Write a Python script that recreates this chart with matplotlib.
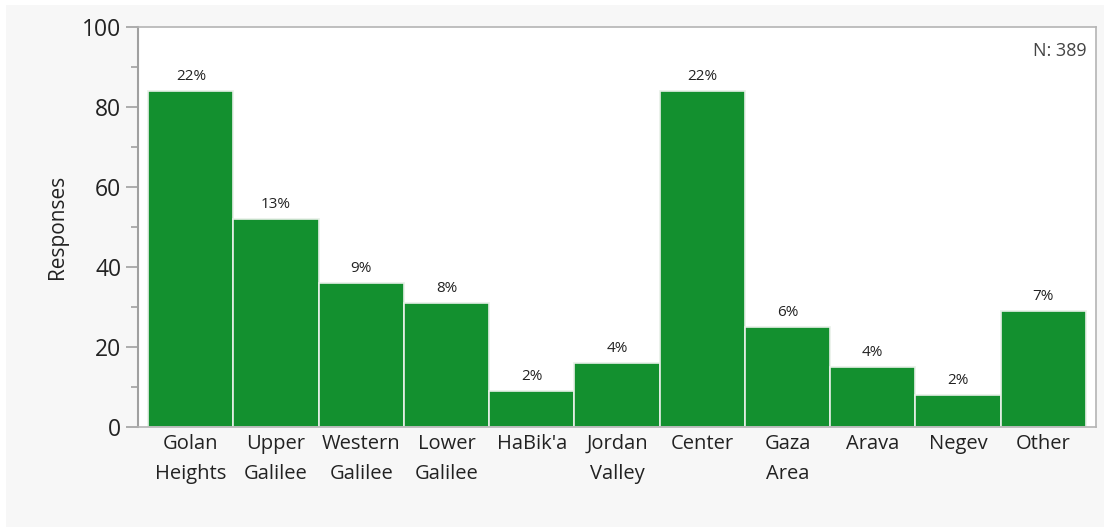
import matplotlib
matplotlib.use("Agg")
import matplotlib.pyplot as plt
from matplotlib.patches import Rectangle
from matplotlib.ticker import MultipleLocator

plt.rcParams['font.family'] = ['Open Sans', 'DejaVu Sans']

categories = ["Golan\nHeights", "Upper\nGalilee", "Western\nGalilee", "Lower\nGalilee",
              "HaBik'a", "Jordan\nValley", "Center", "Gaza\nArea", "Arava", "Negev", "Other"]
responses = [84, 52, 36, 31, 9, 16, 84, 25, 15, 8, 29]
percent_labels = ["22%", "13%", "9%", "8%", "2%", "4%", "22%", "6%", "4%", "2%", "7%"]
n_total = 389

fig = plt.figure(figsize=(11.04, 5.27), dpi=100, facecolor='#f7f7f7')
# white strips at top and left edge
fig.patches.append(Rectangle((0, 1 - 5/527), 1, 5/527, transform=fig.transFigure,
                             facecolor='white', edgecolor='none', zorder=0))
fig.patches.append(Rectangle((0, 0), 6/1104, 1, transform=fig.transFigure,
                             facecolor='white', edgecolor='none', zorder=0))

ax = fig.add_axes([138/1104, 100/527, (1096-138)/1104, 400/527])
ax.set_facecolor('white')

x = list(range(len(categories)))
bars = ax.bar(x, responses, width=1.0, color='#13902f', edgecolor='#e8f0e8', linewidth=1.2)

for xi, v, lab in zip(x, responses, percent_labels):
    ax.annotate(lab, (xi, v), xytext=(0, 5), textcoords='offset points',
                ha='center', va='bottom', fontsize=11, color='#222222')

ax.set_xlim(-0.62, len(categories) - 1 + 0.62)
ax.set_ylim(0, 100)
ax.yaxis.set_major_locator(MultipleLocator(20))
ax.yaxis.set_minor_locator(MultipleLocator(10))
ax.set_xticks(x)
ax.set_xticklabels(categories, fontsize=14.5, color='#222222', linespacing=1.68)
ax.tick_params(axis='x', length=0, pad=5)
ax.tick_params(axis='y', which='major', length=9, width=1.2, color='#a0a0a0',
               labelsize=16.5, labelcolor='#222222', pad=3)
ax.tick_params(axis='y', which='minor', length=5, width=1.2, color='#a0a0a0')

for side in ['top', 'right', 'bottom']:
    ax.spines[side].set_color('#b4b4b4')
    ax.spines[side].set_linewidth(1.2)
ax.spines['left'].set_color('#a0a0a0')
ax.spines['left'].set_linewidth(1.5)

ax.set_ylabel('Responses', fontsize=15, color='#222222', labelpad=10)

ax.text(0.99, 0.94, f"N: {n_total}", transform=ax.transAxes, ha='right', va='center',
        fontsize=13, color='#444444')

fig.savefig('out.png', dpi=100, facecolor=fig.get_facecolor())
